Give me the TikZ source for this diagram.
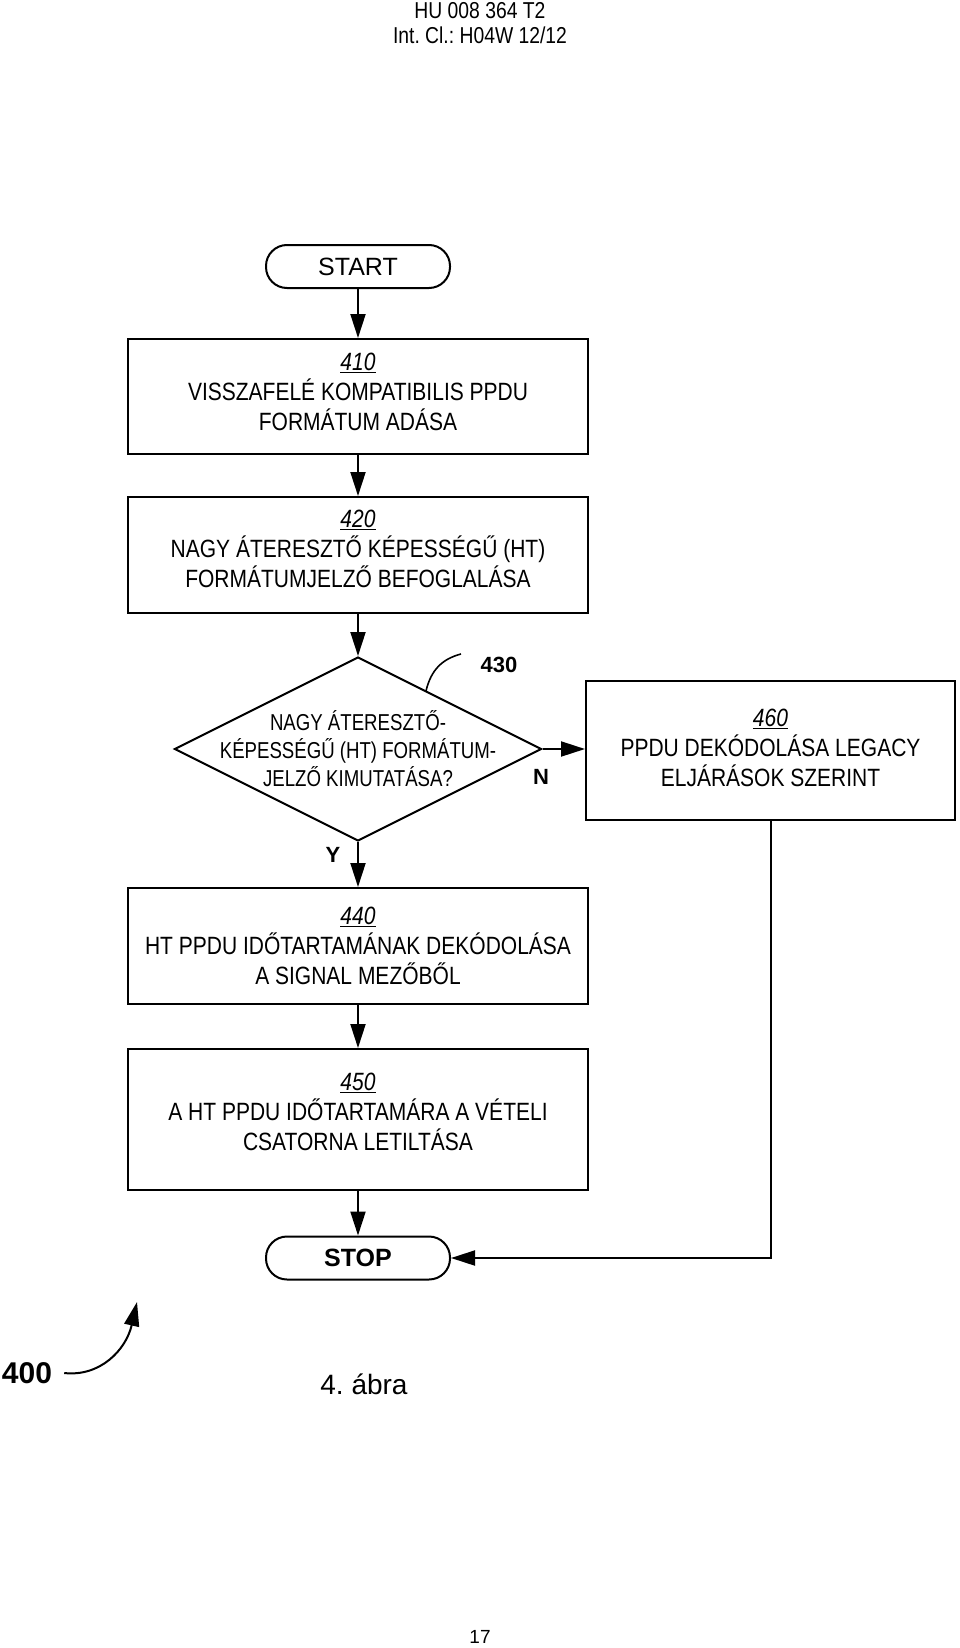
\documentclass[tikz,border=0pt]{standalone}
\usepackage{fontspec}
\setmainfont{Liberation Sans}
\newfontfamily\narrowfont[FakeStretch=0.84]{Liberation Sans}
\newfontfamily\narrowerfont[FakeStretch=0.81]{Liberation Sans}
\usetikzlibrary{shapes.geometric,arrows.meta}
\newcommand\refnum[1]{\underline{\textit{#1}}}
\frenchspacing
\begin{document}
\begin{tikzpicture}[x=1pt,y=-1pt,
  box/.style={draw,line width=2pt,minimum width=460pt,inner sep=0pt},
  boxtext/.style={align=center,inner sep=0pt,font=\narrowfont\fontsize{25}{30}\selectfont},
  term/.style={draw,line width=2pt,rounded corners=21pt,minimum width=184pt,minimum height=43pt,inner sep=0pt,
    font=\fontsize{25}{30}\selectfont},
  dia/.style={draw,diamond,line width=2pt,minimum width=367pt,minimum height=184pt,inner sep=0pt},
  arr/.style={line width=2pt,-{Triangle[length=24pt,width=15pt]}},
  lbl/.style={font=\bfseries\fontsize{22}{26}\selectfont,inner sep=0pt}
]
\useasboundingbox (0,0) rectangle (960,1648);

% header
\node[font=\narrowfont\fontsize{23}{26}\selectfont] (h1) at (480,11) {HU 008 364 T2};
\node[font=\narrowfont\fontsize{23}{26}\selectfont] (h2) at (480,35) {Int. Cl.: H04W 12/12};

% flowchart shapes
\node[term] (start) at (358,266.5) {START};
\node[box,minimum height=115pt] (b410) at (358,396.5) {};
\node[box,minimum height=116pt] (b420) at (358,555) {};
\node[dia] (d430) at (358,749) {};
\node[box,minimum width=369pt,minimum height=139pt] (b460) at (770.5,750.5) {};
\node[box,minimum height=116pt] (b440) at (358,946) {};
\node[box,minimum height=141pt] (b450) at (358,1119.5) {};
\node[term,font=\bfseries\fontsize{25}{30}\selectfont] (stop) at (358,1258) {STOP};

% texts
\node[boxtext] (t410) at (358,392) {\refnum{410}\\VISSZAFELÉ KOMPATIBILIS PPDU\\FORMÁTUM ADÁSA};
\node[boxtext] (t420) at (358,549) {\refnum{420}\\NAGY ÁTERESZTŐ KÉPESSÉGŰ (HT)\\FORMÁTUMJELZŐ BEFOGLALÁSA};
\node[font=\narrowerfont\fontsize{23}{28}\selectfont,align=center,inner sep=0pt] (t430) at (358,749)
  {NAGY ÁTERESZTŐ-\\KÉPESSÉGŰ (HT) FORMÁTUM-\\JELZŐ KIMUTATÁSA?};
\node[boxtext] (t460) at (770.5,748) {\refnum{460}\\PPDU DEKÓDOLÁSA LEGACY\\ELJÁRÁSOK SZERINT};
\node[boxtext] (t440) at (358,945.5) {\refnum{440}\\HT PPDU IDŐTARTAMÁNAK DEKÓDOLÁSA\\A SIGNAL MEZŐBŐL};
\node[boxtext] (t450) at (358,1112) {\refnum{450}\\A HT PPDU IDŐTARTAMÁRA A VÉTELI\\CSATORNA LETILTÁSA};

% connectors
\draw[arr] (start) -- (b410);
\draw[arr] (b410) -- (b420);
\draw[arr] (b420) -- (d430.north);
\draw[arr] (d430.east) -- (d430.east -| b460.west);
\draw[arr] (d430.south) -- (b440);
\draw[arr] (b440) -- (b450);
\draw[arr] (b450) -- (stop);
\draw[arr] (b460.south) |- (stop.east);

% branch labels
\node[lbl] (lN) at (541,777) {N};
\node[lbl] (lY) at (333,855) {Y};

% reference 430
\node[lbl] (l430) at (499,665) {430};
\coordinate (c430a) at (426,691);
\coordinate (c430b) at (461,654);
\draw[line width=1.6pt] (c430a) .. controls (431,670) and (442,659) .. (c430b);

% reference 400
\node[font=\bfseries\fontsize{30}{34}\selectfont,inner sep=0pt] (l400) at (27,1373) {400};
\coordinate (t400) at (137,1302);
\draw[line width=2pt,-{Triangle[length=24pt,width=15pt]}] ([xshift=12pt]l400.east) .. controls (100,1377) and (126,1350) .. (t400);

% caption and page number
\node[font=\fontsize{28}{32}\selectfont] (fig) at (364,1384) {4.\ ábra};
\node[font=\fontsize{19}{22}\selectfont] (pg) at (480,1637) {17};
\end{tikzpicture}
\end{document}
